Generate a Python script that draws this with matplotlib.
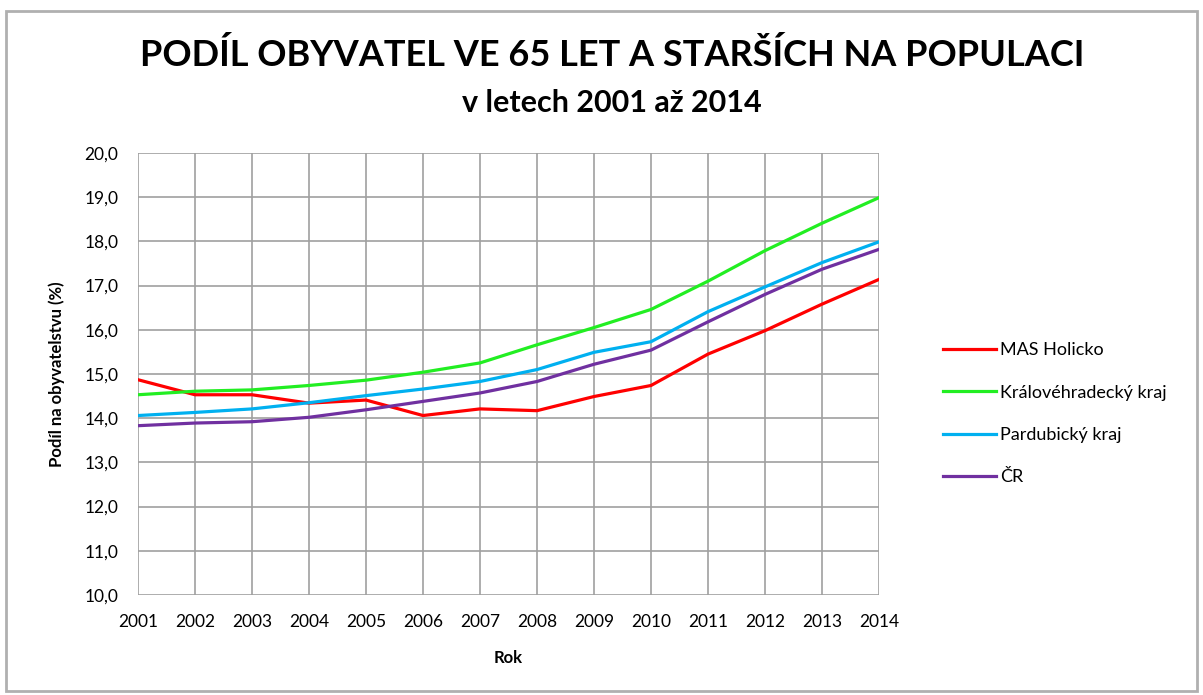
import matplotlib
matplotlib.use("Agg")
import matplotlib.pyplot as plt
from matplotlib.patches import Rectangle
from matplotlib.ticker import FuncFormatter

plt.rcParams['font.family'] = ['Lato', 'DejaVu Sans']

years = list(range(2001, 2015))
mas_holicko = [14.87, 14.53, 14.53, 14.34, 14.41, 14.06, 14.21, 14.17, 14.49, 14.74, 15.45, 15.98, 16.58, 17.14]
kralovehradecky = [14.53, 14.61, 14.64, 14.74, 14.86, 15.04, 15.25, 15.66, 16.05, 16.46, 17.10, 17.79, 18.41, 18.99]
pardubicky = [14.06, 14.13, 14.21, 14.35, 14.51, 14.66, 14.83, 15.10, 15.49, 15.73, 16.41, 16.97, 17.52, 17.99]
cr = [13.83, 13.89, 13.92, 14.02, 14.19, 14.38, 14.57, 14.83, 15.22, 15.54, 16.18, 16.80, 17.37, 17.82]

series = [
    ("MAS Holicko", mas_holicko, "#ff0000"),
    ("Královéhradecký kraj", kralovehradecky, "#22ee22"),
    ("Pardubický kraj", pardubicky, "#00b0f0"),
    ("ČR", cr, "#7030a0"),
]

fig = plt.figure(figsize=(12.03, 6.95), dpi=100)
ax = fig.add_axes([0.1147, 0.1439, 0.616, 0.636])

for name, vals, col in series:
    ax.plot(years, vals, color=col, lw=2.3, label=name)

ax.set_xlim(2001, 2014)
ax.set_ylim(10, 20)
ax.set_xticks(years)
ax.set_yticks(range(10, 21))
ax.yaxis.set_major_formatter(FuncFormatter(lambda v, p: f"{v:.1f}".replace(".", ",")))
ax.grid(True, color="#a0a0a0", lw=1.2)
ax.set_axisbelow(True)
for s in ax.spines.values():
    s.set_visible(False)
ax.tick_params(length=0, labelsize=12.5)
ax.tick_params(axis="x", pad=14)
ax.tick_params(axis="y", pad=14)

ax.set_xlabel("Rok", fontsize=12, fontweight="bold", labelpad=14)
ax.set_ylabel("Podíl na obyvatelstvu (%)", fontsize=12, fontweight="bold", labelpad=14)

fig.text(0.509, 0.921, "PODÍL OBYVATEL VE 65 LET A STARŠÍCH NA POPULACI",
         ha="center", va="center", fontsize=26, fontweight="bold")
fig.text(0.509, 0.852, "v letech 2001 až 2014",
         ha="center", va="center", fontsize=22, fontweight="bold")

leg = ax.legend(loc="center left", bbox_to_anchor=(1.065, 0.41), frameon=False,
                fontsize=13, handlelength=2.9, handletextpad=0.25, labelspacing=1.45)

fig.patches.append(Rectangle((0.005, 0.006), 0.99, 0.978, transform=fig.transFigure,
                             fill=False, edgecolor="#b0b0b0", lw=2))

fig.savefig("out.png", dpi=100)
